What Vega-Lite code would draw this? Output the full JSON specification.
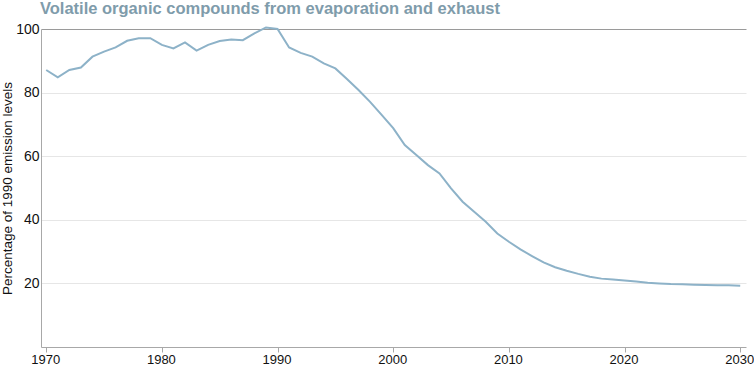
{
  "$schema": "https://vega.github.io/schema/vega-lite/v6.json",
  "width": 705,
  "height": 318,
  "autosize": {"type": "none"},
  "padding": {"left": 41, "right": 8, "top": 29, "bottom": 20},
  "background": "white",
  "title": {
    "text": "Volatile organic compounds from evaporation and exhaust",
    "anchor": "start",
    "frame": "group",
    "font": "Liberation Sans",
    "fontSize": 16.5,
    "fontWeight": "bold",
    "color": "#7f9cab",
    "offset": 5,
    "dx": -1
  },
  "config": {
    "view": {"stroke": null},
    "font": "Liberation Sans"
  },
  "data": {
    "values": [
      {"year": 1970, "pct": 87.1},
      {"year": 1971, "pct": 84.8},
      {"year": 1972, "pct": 87.1},
      {"year": 1973, "pct": 87.9},
      {"year": 1974, "pct": 91.3},
      {"year": 1975, "pct": 92.9},
      {"year": 1976, "pct": 94.2},
      {"year": 1977, "pct": 96.3},
      {"year": 1978, "pct": 97.1},
      {"year": 1979, "pct": 97.1},
      {"year": 1980, "pct": 95.0},
      {"year": 1981, "pct": 93.9},
      {"year": 1982, "pct": 95.8},
      {"year": 1983, "pct": 93.2},
      {"year": 1984, "pct": 95.0},
      {"year": 1985, "pct": 96.2},
      {"year": 1986, "pct": 96.7},
      {"year": 1987, "pct": 96.5},
      {"year": 1988, "pct": 98.6},
      {"year": 1989, "pct": 100.5},
      {"year": 1990, "pct": 100.0},
      {"year": 1991, "pct": 94.2},
      {"year": 1992, "pct": 92.5},
      {"year": 1993, "pct": 91.3},
      {"year": 1994, "pct": 89.2},
      {"year": 1995, "pct": 87.6},
      {"year": 1996, "pct": 84.3},
      {"year": 1997, "pct": 80.8},
      {"year": 1998, "pct": 77.1},
      {"year": 1999, "pct": 73.0},
      {"year": 2000, "pct": 68.8},
      {"year": 2001, "pct": 63.5},
      {"year": 2002, "pct": 60.4},
      {"year": 2003, "pct": 57.2},
      {"year": 2004, "pct": 54.6},
      {"year": 2005, "pct": 49.9},
      {"year": 2006, "pct": 45.7},
      {"year": 2007, "pct": 42.5},
      {"year": 2008, "pct": 39.4},
      {"year": 2009, "pct": 35.7},
      {"year": 2010, "pct": 33.1},
      {"year": 2011, "pct": 30.7},
      {"year": 2012, "pct": 28.6},
      {"year": 2013, "pct": 26.6},
      {"year": 2014, "pct": 25.1},
      {"year": 2015, "pct": 24.0},
      {"year": 2016, "pct": 23.0},
      {"year": 2017, "pct": 22.1},
      {"year": 2018, "pct": 21.5},
      {"year": 2019, "pct": 21.2},
      {"year": 2020, "pct": 20.9},
      {"year": 2021, "pct": 20.6},
      {"year": 2022, "pct": 20.2},
      {"year": 2023, "pct": 20.0},
      {"year": 2024, "pct": 19.8},
      {"year": 2025, "pct": 19.7},
      {"year": 2026, "pct": 19.6},
      {"year": 2027, "pct": 19.5},
      {"year": 2028, "pct": 19.4},
      {"year": 2029, "pct": 19.4},
      {"year": 2030, "pct": 19.3}
    ]
  },
  "mark": {"type": "line", "color": "#8db2c8", "strokeWidth": 2, "clip": false},
  "encoding": {
    "x": {
      "field": "year",
      "type": "quantitative",
      "scale": {"domain": [1969.55, 2030.5], "nice": false, "zero": false},
      "axis": {
        "values": [1970, 1980, 1990, 2000, 2010, 2020, 2030],
        "format": "d",
        "title": null,
        "grid": false,
        "domainColor": "#a8a8a8",
        "tickColor": "#a8a8a8",
        "tickSize": 5,
        "labelFontSize": 13,
        "labelOffset": -1,
        "labelColor": "#111",
        "labelPadding": 1,
        "labelFlush": false
      }
    },
    "y": {
      "field": "pct",
      "type": "quantitative",
      "scale": {"domain": [0, 100], "nice": false},
      "axis": {
        "values": [20, 40, 60, 80, 100],
        "title": "Percentage of 1990 emission levels",
        "titleFontSize": 13.5,
        "titleFontWeight": "normal",
        "titleColor": "#111",
        "titlePadding": 1,
        "ticks": false,
        "labelPadding": 2,
        "labelFontSize": 14,
        "labelColor": "#111",
        "domainColor": "#a8a8a8",
        "gridColor": {"condition": {"test": "datum.value === 100", "value": "#9a9a9a"}, "value": "#e6e6e6"},
        "gridWidth": 1
      }
    }
  }
}
